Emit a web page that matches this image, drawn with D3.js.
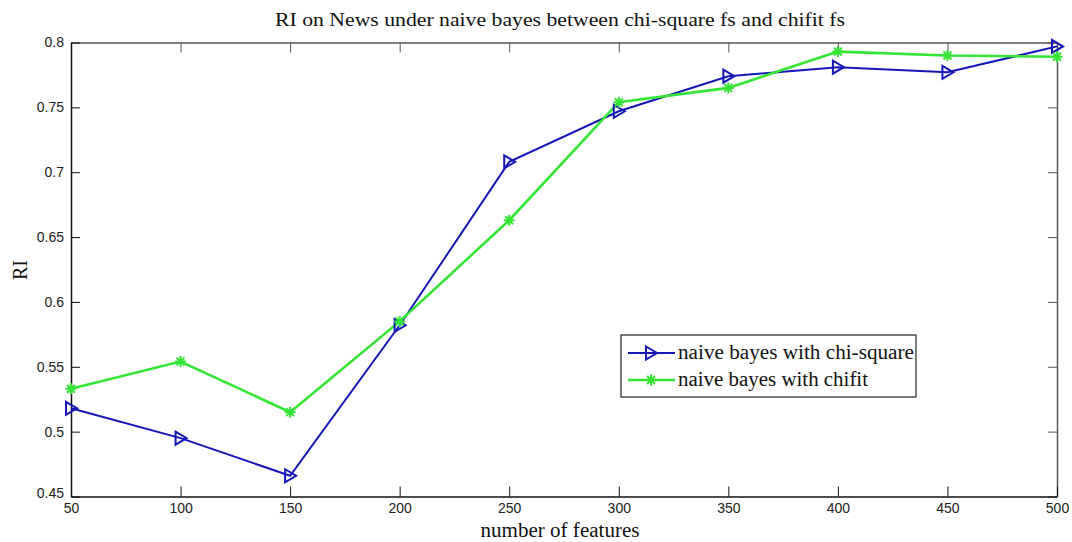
<!DOCTYPE html>
<html>
<head>
<meta charset="utf-8">
<script src="https://cdn.jsdelivr.net/npm/d3@7"></script>
<style>
  html, body { margin: 0; padding: 0; background: #fff; }
  svg { display: block; }
</style>
</head>
<body>
<svg id="chart" width="1072" height="542"></svg>
<script>
// Feature counts on the x axis
const features = [50, 100, 150, 200, 250, 300, 350, 400, 450, 500];
// RI values for each feature-selection method
const chiSquareRI = [0.518, 0.495, 0.466, 0.582, 0.708, 0.747, 0.774, 0.781, 0.777, 0.797];
const chifitRI    = [0.533, 0.554, 0.515, 0.585, 0.663, 0.754, 0.765, 0.793, 0.790, 0.789];
// Tick labels
const xTicks = [50, 100, 150, 200, 250, 300, 350, 400, 450, 500];
const yTicks = [0.45, 0.5, 0.55, 0.6, 0.65, 0.7, 0.75, 0.8];
const seriesNames = ["naive bayes with chi-square", "naive bayes with chifit"];

const svg = d3.select("#chart");
const L = 71, R = 1057, T = 42.5, B = 496.5;

const x = d3.scaleLinear().domain([50, 500]).range([L, R]);
const y = d3.scaleLinear().domain([0.45, 0.8]).range([B, T]);

const tickFont = "'Liberation Sans', Arial, sans-serif";
const serif = "'Liberation Serif', 'Times New Roman', serif";

// Axes with inward ticks (MATLAB style box)
const xBottom = d3.axisBottom(x).tickValues(xTicks).tickSize(-10).tickSizeOuter(0).tickPadding(7).tickFormat(d3.format("d"));
const xTop = d3.axisTop(x).tickValues(xTicks).tickSize(-10).tickSizeOuter(0).tickFormat("");
const yLeft = d3.axisLeft(y).tickValues(yTicks).tickSize(-9).tickSizeOuter(0).tickPadding(7).tickFormat(d => String(+d.toFixed(2)));
const yRight = d3.axisRight(y).tickValues(yTicks).tickSize(-9).tickSizeOuter(0).tickFormat("");

function styleAxis(g, col) {
  g.select(".domain").attr("stroke", col).attr("stroke-width", 1.5);
  g.selectAll(".tick line").attr("stroke", col).attr("stroke-width", 1);
  g.selectAll(".tick text").attr("fill", "#222").style("font-family", tickFont).style("font-size", "14px");
}

svg.append("g").attr("transform", `translate(0,${T})`).call(xTop).call(g => styleAxis(g, "#555"));
svg.append("g").attr("transform", `translate(${R},0)`).call(yRight).call(g => styleAxis(g, "#555"));
svg.append("g").attr("transform", `translate(0,${B})`).call(xBottom).call(g => styleAxis(g, "#111"));
svg.append("g").attr("transform", `translate(${L},0)`).call(yLeft).call(g => styleAxis(g, "#111"))
  .call(g => g.selectAll(".tick").filter(d => d === 0.45).select("text").attr("dy", "0.1em"));

// Lines
const line = d3.line().x((d, i) => x(features[i])).y(d => y(d));
const blue = "#1515b8", green = "#33e633";

svg.append("path").datum(chiSquareRI).attr("d", line)
  .attr("fill", "none").attr("stroke", blue).attr("stroke-width", 2);
svg.append("path").datum(chifitRI).attr("d", line)
  .attr("fill", "none").attr("stroke", green).attr("stroke-width", 2.6);

// Markers
function triangle(sel, cx, cy) {
  sel.append("path")
    .attr("d", `M${cx - 5},${cy - 6.5} L${cx + 6},${cy} L${cx - 5},${cy + 6.5} Z`)
    .attr("fill", "none").attr("stroke", blue).attr("stroke-width", 2);
}
function asterisk(sel, cx, cy) {
  const r = 5.5;
  let d = `M${cx - r},${cy} L${cx + r},${cy} M${cx},${cy - r} L${cx},${cy + r}`;
  const k = r * 0.72;
  d += ` M${cx - k},${cy - k} L${cx + k},${cy + k} M${cx - k},${cy + k} L${cx + k},${cy - k}`;
  sel.append("path").attr("d", d).attr("fill", "none").attr("stroke", green).attr("stroke-width", 2);
}

const mk = svg.append("g");
chiSquareRI.forEach((v, i) => triangle(mk, x(features[i]), y(v)));
chifitRI.forEach((v, i) => asterisk(mk, x(features[i]), y(v)));

// Title and axis labels
svg.append("text").attr("x", 560).attr("y", 26).attr("text-anchor", "middle")
  .style("font-family", serif).style("font-size", "19.5px").attr("fill", "#111")
  .attr("textLength", 570).attr("lengthAdjust", "spacingAndGlyphs")
  .text("RI on News under naive bayes between chi-square fs and chifit fs");
svg.append("text").attr("x", 560).attr("y", 537).attr("text-anchor", "middle")
  .style("font-family", serif).style("font-size", "20px").attr("fill", "#111")
  .attr("textLength", 159).attr("lengthAdjust", "spacingAndGlyphs")
  .text("number of features");
svg.append("text").attr("transform", `translate(27,270) rotate(-90)`).attr("text-anchor", "middle")
  .style("font-family", serif).style("font-size", "20px").attr("fill", "#111")
  .text("RI");

// Legend
const lg = svg.append("g");
lg.append("rect").attr("x", 621).attr("y", 335).attr("width", 295).attr("height", 62)
  .attr("fill", "#fff").attr("stroke", "#222").attr("stroke-width", 1.2);
const rows = [353, 380];
lg.append("line").attr("x1", 628).attr("x2", 675).attr("y1", rows[0]).attr("y2", rows[0]).attr("stroke", blue).attr("stroke-width", 2);
triangle(lg, 651, rows[0]);
lg.append("line").attr("x1", 628).attr("x2", 675).attr("y1", rows[1]).attr("y2", rows[1]).attr("stroke", green).attr("stroke-width", 2.6);
asterisk(lg, 651, rows[1]);
const legendWidths = [236, 190];
seriesNames.forEach((n, i) => {
  lg.append("text").attr("x", 678).attr("y", rows[i] + 6)
    .style("font-family", serif).style("font-size", "20px").attr("fill", "#111")
    .attr("textLength", legendWidths[i]).attr("lengthAdjust", "spacingAndGlyphs")
    .text(n);
});
</script>
</body>
</html>
